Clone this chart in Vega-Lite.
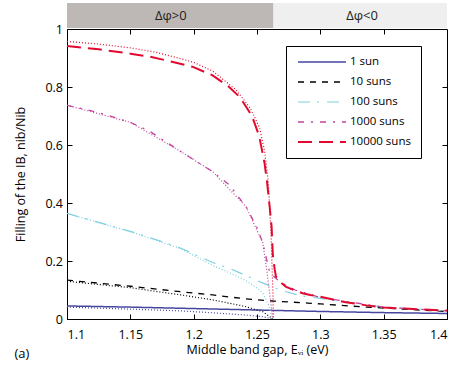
{
  "$schema": "https://vega.github.io/schema/vega-lite/v6.json",
  "padding": {"left": 14, "top": 3, "right": 4, "bottom": 4},
  "spacing": 1,
  "bounds": "flush",
  "title": {"text": "(a)", "orient": "bottom", "anchor": "start", "fontSize": 13, "fontWeight": "normal", "font": "Open Sans", "color": "black", "offset": -9},
  "config": {
    "font": "Open Sans",
    "axis": {"labelFontSize": 12.5, "titleFontSize": 12.5, "titleFontWeight": "normal", "labelColor": "black", "titleColor": "black", "domainColor": "black", "tickColor": "black", "grid": false},
    "legend": {"labelFontSize": 11.5, "labelColor": "black"}
  },
  "datasets": {
    "bands": [
      {"label": "Δφ>0", "start": 1.1, "end": 1.263, "mid": 1.182},
      {"label": "Δφ<0", "start": 1.263, "end": 1.4, "mid": 1.333}
    ],
    "main": [
      {"E": 1.1, "f": 0.045, "s": "1 sun"}, {"E": 1.15, "f": 0.041, "s": "1 sun"}, {"E": 1.2, "f": 0.036, "s": "1 sun"}, {"E": 1.25, "f": 0.031, "s": "1 sun"}, {"E": 1.3, "f": 0.026, "s": "1 sun"}, {"E": 1.35, "f": 0.022, "s": "1 sun"}, {"E": 1.4, "f": 0.019, "s": "1 sun"},
      {"E": 1.1, "f": 0.134, "s": "10 suns"}, {"E": 1.15, "f": 0.113, "s": "10 suns"}, {"E": 1.19, "f": 0.094, "s": "10 suns"}, {"E": 1.215, "f": 0.083, "s": "10 suns"}, {"E": 1.24, "f": 0.07, "s": "10 suns"}, {"E": 1.2625, "f": 0.062, "s": "10 suns"}, {"E": 1.29, "f": 0.055, "s": "10 suns"}, {"E": 1.3, "f": 0.052, "s": "10 suns"}, {"E": 1.3365, "f": 0.041, "s": "10 suns"}, {"E": 1.37, "f": 0.033, "s": "10 suns"}, {"E": 1.4, "f": 0.026, "s": "10 suns"},
      {"E": 1.1, "f": 0.364, "s": "100 suns"}, {"E": 1.125, "f": 0.333, "s": "100 suns"}, {"E": 1.15, "f": 0.302, "s": "100 suns"}, {"E": 1.17, "f": 0.274, "s": "100 suns"}, {"E": 1.19, "f": 0.244, "s": "100 suns"}, {"E": 1.215, "f": 0.195, "s": "100 suns"}, {"E": 1.228, "f": 0.175, "s": "100 suns"}, {"E": 1.236, "f": 0.16, "s": "100 suns"}, {"E": 1.252, "f": 0.129, "s": "100 suns"}, {"E": 1.268, "f": 0.1, "s": "100 suns"}, {"E": 1.2845, "f": 0.08, "s": "100 suns"}, {"E": 1.3, "f": 0.071, "s": "100 suns"}, {"E": 1.35, "f": 0.041, "s": "100 suns"}, {"E": 1.4, "f": 0.028, "s": "100 suns"},
      {"E": 1.1, "f": 0.737, "s": "1000 suns"}, {"E": 1.125, "f": 0.712, "s": "1000 suns"}, {"E": 1.15, "f": 0.678, "s": "1000 suns"}, {"E": 1.165, "f": 0.648, "s": "1000 suns"}, {"E": 1.19, "f": 0.577, "s": "1000 suns"}, {"E": 1.215, "f": 0.508, "s": "1000 suns"}, {"E": 1.228, "f": 0.463, "s": "1000 suns"}, {"E": 1.2414, "f": 0.387, "s": "1000 suns"}, {"E": 1.25, "f": 0.315, "s": "1000 suns"}, {"E": 1.2546, "f": 0.262, "s": "1000 suns"}, {"E": 1.2577, "f": 0.203, "s": "1000 suns"}, {"E": 1.26, "f": 0.16, "s": "1000 suns"}, {"E": 1.268, "f": 0.128, "s": "1000 suns"}, {"E": 1.28, "f": 0.1, "s": "1000 suns"}, {"E": 1.3, "f": 0.074, "s": "1000 suns"}, {"E": 1.35, "f": 0.041, "s": "1000 suns"}, {"E": 1.4, "f": 0.028, "s": "1000 suns"},
      {"E": 1.1, "f": 0.941, "s": "10000 suns"}, {"E": 1.125, "f": 0.93, "s": "10000 suns"}, {"E": 1.15, "f": 0.915, "s": "10000 suns"}, {"E": 1.165, "f": 0.905, "s": "10000 suns"}, {"E": 1.18, "f": 0.89, "s": "10000 suns"}, {"E": 1.199, "f": 0.87, "s": "10000 suns"}, {"E": 1.215, "f": 0.84, "s": "10000 suns"}, {"E": 1.228, "f": 0.8, "s": "10000 suns"}, {"E": 1.236, "f": 0.767, "s": "10000 suns"}, {"E": 1.2414, "f": 0.732, "s": "10000 suns"}, {"E": 1.246, "f": 0.7, "s": "10000 suns"}, {"E": 1.25, "f": 0.652, "s": "10000 suns"}, {"E": 1.252, "f": 0.625, "s": "10000 suns"}, {"E": 1.256, "f": 0.537, "s": "10000 suns"}, {"E": 1.258, "f": 0.47, "s": "10000 suns"}, {"E": 1.26, "f": 0.387, "s": "10000 suns"}, {"E": 1.2615, "f": 0.32, "s": "10000 suns"}, {"E": 1.2625, "f": 0.22, "s": "10000 suns"}, {"E": 1.264, "f": 0.17, "s": "10000 suns"}, {"E": 1.265, "f": 0.146, "s": "10000 suns"}, {"E": 1.268, "f": 0.129, "s": "10000 suns"}, {"E": 1.273, "f": 0.111, "s": "10000 suns"}, {"E": 1.28, "f": 0.098, "s": "10000 suns"}, {"E": 1.286, "f": 0.089, "s": "10000 suns"}, {"E": 1.292, "f": 0.083, "s": "10000 suns"}, {"E": 1.3, "f": 0.077, "s": "10000 suns"}, {"E": 1.32, "f": 0.058, "s": "10000 suns"}, {"E": 1.3365, "f": 0.047, "s": "10000 suns"}, {"E": 1.35, "f": 0.04, "s": "10000 suns"}, {"E": 1.37, "f": 0.035, "s": "10000 suns"}, {"E": 1.4, "f": 0.029, "s": "10000 suns"}
    ],
    "dotted": [
      {"E": 1.1, "f": 0.041, "s": "1 sun"}, {"E": 1.15, "f": 0.034, "s": "1 sun"}, {"E": 1.19, "f": 0.028, "s": "1 sun"}, {"E": 1.22, "f": 0.02, "s": "1 sun"}, {"E": 1.24, "f": 0.014, "s": "1 sun"}, {"E": 1.2546, "f": 0.008, "s": "1 sun"}, {"E": 1.2625, "f": 0, "s": "1 sun"},
      {"E": 1.1, "f": 0.13, "s": "10 suns"}, {"E": 1.15, "f": 0.108, "s": "10 suns"}, {"E": 1.19, "f": 0.083, "s": "10 suns"}, {"E": 1.215, "f": 0.066, "s": "10 suns"}, {"E": 1.24, "f": 0.044, "s": "10 suns"}, {"E": 1.2546, "f": 0.025, "s": "10 suns"}, {"E": 1.2625, "f": 0, "s": "10 suns"},
      {"E": 1.1, "f": 0.364, "s": "100 suns"}, {"E": 1.15, "f": 0.301, "s": "100 suns"}, {"E": 1.19, "f": 0.242, "s": "100 suns"}, {"E": 1.215, "f": 0.185, "s": "100 suns"}, {"E": 1.23, "f": 0.156, "s": "100 suns"}, {"E": 1.2414, "f": 0.132, "s": "100 suns"}, {"E": 1.25, "f": 0.107, "s": "100 suns"}, {"E": 1.2546, "f": 0.089, "s": "100 suns"}, {"E": 1.259, "f": 0.05, "s": "100 suns"}, {"E": 1.2625, "f": 0, "s": "100 suns"},
      {"E": 1.1, "f": 0.737, "s": "1000 suns"}, {"E": 1.15, "f": 0.678, "s": "1000 suns"}, {"E": 1.19, "f": 0.577, "s": "1000 suns"}, {"E": 1.215, "f": 0.508, "s": "1000 suns"}, {"E": 1.2414, "f": 0.387, "s": "1000 suns"}, {"E": 1.2546, "f": 0.262, "s": "1000 suns"}, {"E": 1.258, "f": 0.16, "s": "1000 suns"}, {"E": 1.2605, "f": 0.07, "s": "1000 suns"}, {"E": 1.2625, "f": 0, "s": "1000 suns"},
      {"E": 1.1, "f": 0.957, "s": "10000 suns"}, {"E": 1.125, "f": 0.948, "s": "10000 suns"}, {"E": 1.15, "f": 0.935, "s": "10000 suns"}, {"E": 1.17, "f": 0.92, "s": "10000 suns"}, {"E": 1.1887, "f": 0.899, "s": "10000 suns"}, {"E": 1.2, "f": 0.885, "s": "10000 suns"}, {"E": 1.215, "f": 0.855, "s": "10000 suns"}, {"E": 1.2335, "f": 0.79, "s": "10000 suns"}, {"E": 1.245, "f": 0.725, "s": "10000 suns"}, {"E": 1.252, "f": 0.66, "s": "10000 suns"}, {"E": 1.256, "f": 0.58, "s": "10000 suns"}, {"E": 1.259, "f": 0.47, "s": "10000 suns"}, {"E": 1.261, "f": 0.3, "s": "10000 suns"}, {"E": 1.2625, "f": 0.1, "s": "10000 suns"}, {"E": 1.263, "f": 0, "s": "10000 suns"}
    ]
  },
  "vconcat": [
    {
      "width": 380,
      "height": 25,
      "view": {"stroke": null},
      "data": {"name": "bands"},
      "layer": [
        {
          "mark": {"type": "rect"},
          "encoding": {
            "x": {"field": "start", "type": "quantitative", "scale": {"domain": [1.1, 1.4], "nice": false, "zero": false}, "axis": null},
            "x2": {"field": "end"},
            "fill": {"field": "label", "type": "nominal", "scale": {"domain": ["Δφ>0", "Δφ<0"], "range": ["#bdb8b5", "#efefef"]}, "legend": null}
          }
        },
        {
          "mark": {"type": "text", "fontSize": 13, "color": "#222"},
          "encoding": {
            "x": {"field": "mid", "type": "quantitative", "scale": {"domain": [1.1, 1.4], "nice": false, "zero": false}, "axis": null},
            "text": {"field": "label"}
          }
        }
      ]
    },
    {
      "width": 380,
      "height": 290,
      "view": {"stroke": "black", "strokeWidth": 1},
      "resolve": {"axis": {"x": "independent", "y": "independent"}},
      "layer": [
        {
          "data": {"name": "main"},
          "mark": {"type": "line", "clip": true},
          "encoding": {
            "x": {"field": "E", "type": "quantitative", "scale": {"domain": [1.1, 1.4], "nice": false, "zero": false},
              "axis": {"orient": "bottom", "values": [1.1, 1.15, 1.2, 1.25, 1.3, 1.35, 1.4], "format": "~g", "tickSize": -5, "labelPadding": 14, "title": "Middle band gap, Eᵥᵢ (eV)", "titlePadding": 3}},
            "y": {"field": "f", "type": "quantitative", "scale": {"domain": [0, 1], "nice": false},
              "axis": {"orient": "left", "values": [0, 0.2, 0.4, 0.6, 0.8, 1], "format": "~g", "tickSize": -5, "labelPadding": 9.5, "title": "Filling of the IB, nib/Nib", "titlePadding": 17}},
            "color": {"field": "s", "type": "nominal",
              "scale": {"domain": ["1 sun", "10 suns", "100 suns", "1000 suns", "10000 suns"], "range": ["#4646a0", "#000000", "#7fcfe0", "#c2449e", "#e10a2e"]},
              "legend": {"title": null, "orient": "none", "legendX": 219, "legendY": 43, "fillColor": "white", "strokeColor": "black", "padding": 10, "symbolType": "M-4.8,0L4.8,0", "symbolSize": 100, "symbolOffset": 20, "labelOffset": 22, "rowPadding": 8, "labelFontSize": 11.5}},
            "strokeDash": {"field": "s", "type": "nominal",
              "scale": {"domain": ["1 sun", "10 suns", "100 suns", "1000 suns", "10000 suns"], "range": [[1, 0], [6, 6], [12, 7, 2, 8], [6, 7, 2, 7], [14, 7]]},
              "legend": {"title": null, "orient": "none", "legendX": 219, "legendY": 43, "fillColor": "white", "strokeColor": "black", "padding": 10, "symbolType": "M-4.8,0L4.8,0", "symbolSize": 100, "symbolOffset": 20, "labelOffset": 22, "rowPadding": 8, "labelFontSize": 11.5}},
            "strokeWidth": {"field": "s", "type": "nominal",
              "scale": {"type": "ordinal", "domain": ["1 sun", "10 suns", "100 suns", "1000 suns", "10000 suns"], "range": [1.5, 1.3, 1.2, 1.3, 2]},
              "legend": {"title": null, "orient": "none", "legendX": 219, "legendY": 43, "fillColor": "white", "strokeColor": "black", "padding": 10, "symbolType": "M-4.8,0L4.8,0", "symbolSize": 100, "symbolOffset": 20, "labelOffset": 22, "rowPadding": 8, "labelFontSize": 11.5}}
          }
        },
        {
          "data": {"name": "dotted"},
          "mark": {"type": "line", "strokeDash": [1, 2], "strokeWidth": 1.2, "clip": true},
          "encoding": {
            "x": {"field": "E", "type": "quantitative",
              "axis": {"orient": "top", "values": [1.15, 1.2, 1.25, 1.3, 1.35], "labels": false, "tickSize": -5, "title": null, "domain": false, "minExtent": 0, "maxExtent": 0}},
            "y": {"field": "f", "type": "quantitative",
              "axis": {"orient": "right", "values": [0.2, 0.4, 0.6, 0.8], "labels": false, "tickSize": -5, "title": null, "domain": false, "minExtent": 0, "maxExtent": 0}},
            "color": {"field": "s", "type": "nominal"}
          }
        }
      ]
    }
  ]
}
